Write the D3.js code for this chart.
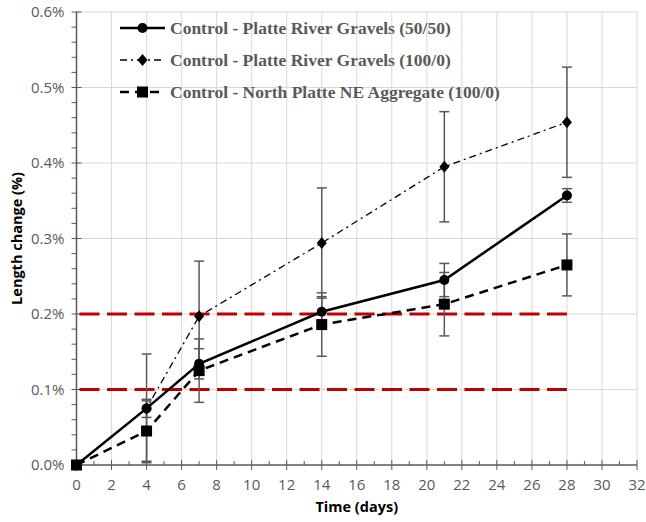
<!DOCTYPE html>
<meta charset="utf-8">
<style>
  body { margin: 0; background: #fff; }
  text { font-family: 'Open Sans', 'Liberation Sans', sans-serif; }
</style>
<script src="https://d3js.org/d3.v7.min.js"></script>
<div id="chart"></div>
<script>
// values (length change in %)
var days = [0, 4, 7, 14, 21, 28];
var mix5050 = [0, 0.075, 0.134, 0.203, 0.245, 0.357];
var err5050 = [0, 0.012, 0.020, 0.020, 0.022, 0.009];
var pr100 = [0, 0.075, 0.197, 0.294, 0.395, 0.454];
var errPr100 = [0, 0.072, 0.073, 0.073, 0.073, 0.073];
var np100 = [0, 0.045, 0.125, 0.186, 0.213, 0.265];
var errNp100 = [0, 0.040, 0.042, 0.042, 0.042, 0.041];
var limits = [0.1, 0.2];
var limitDays = [0, 28];
var seriesNames = ["Control - Platte River Gravels (50/50)",
                   "Control - Platte River Gravels (100/0)",
                   "Control - North Platte NE Aggregate (100/0)"];

var width = 646, height = 522;
var margin = {top: 12, right: 9, bottom: 57, left: 76.5};

var svg = d3.select("#chart").append("svg")
  .attr("width", width).attr("height", height);

var x = d3.scaleLinear().domain([0, 32]).range([margin.left, width - margin.right]);
var y = d3.scaleLinear().domain([0, 0.6]).range([height - margin.bottom, margin.top]);

var grey = "#595959";

// gridlines
svg.append("g").selectAll("line.v")
  .data(d3.range(2, 33, 2)).enter().append("line")
  .attr("x1", d => x(d)).attr("x2", d => x(d))
  .attr("y1", y(0)).attr("y2", y(0.6))
  .attr("stroke", "#d9d9d9").attr("stroke-width", 1);
svg.append("g").selectAll("line.h")
  .data(d3.range(1, 7).map(d => d / 10)).enter().append("line")
  .attr("x1", x(0)).attr("x2", x(32))
  .attr("y1", d => y(d)).attr("y2", d => y(d))
  .attr("stroke", "#d9d9d9").attr("stroke-width", 1);

// axes
var xAxis = svg.append("g").attr("transform", "translate(0," + y(0) + ")");
xAxis.append("line").attr("x1", x(0)).attr("x2", x(32)).attr("stroke", grey).attr("stroke-width", 1.5);
xAxis.selectAll("line.minor").data(d3.range(0, 33, 1)).enter().append("line")
  .attr("x1", d => x(d)).attr("x2", d => x(d))
  .attr("y1", d => d % 2 ? -4 : -5).attr("y2", d => d % 2 ? 0 : 5)
  .attr("stroke", grey).attr("stroke-width", 1);
xAxis.selectAll("text").data(d3.range(0, 33, 2)).enter().append("text")
  .attr("x", d => x(d)).attr("y", 25)
  .attr("text-anchor", "middle").attr("fill", grey).style("font-size", "15px")
  .text(d => d);

var yAxis = svg.append("g").attr("transform", "translate(" + x(0) + ",0)");
yAxis.append("line").attr("y1", y(0)).attr("y2", y(0.6)).attr("stroke", grey).attr("stroke-width", 1.5);
yAxis.selectAll("line.minor").data(d3.range(0, 31).map(d => d / 50)).enter().append("line")
  .attr("y1", d => y(d)).attr("y2", d => y(d))
  .attr("x1", -5).attr("x2", (d, i) => i % 5 ? 0 : 5)
  .attr("stroke", grey).attr("stroke-width", 1);
yAxis.selectAll("text").data(d3.range(0, 7).map(d => d / 10)).enter().append("text")
  .attr("x", -12).attr("y", d => y(d)).attr("dy", "0.35em")
  .attr("text-anchor", "end").attr("fill", grey).style("font-size", "15px")
  .text(d => d3.format(".1%")(d / 100));

svg.append("text")
  .attr("x", (x(0) + x(32)) / 2).attr("y", 512)
  .attr("text-anchor", "middle").style("font-size", "14.5px").style("font-weight", "bold")
  .text("Time (days)");
svg.append("text")
  .attr("transform", "translate(22," + y(0.3) + ") rotate(-90)")
  .attr("text-anchor", "middle").style("font-size", "14.5px").style("font-weight", "bold")
  .text("Length change (%)");

// red limit lines
svg.append("g").selectAll("line").data(limits).enter().append("line")
  .attr("x1", x(limitDays[0])).attr("x2", x(limitDays[1]))
  .attr("y1", d => y(d)).attr("y2", d => y(d))
  .attr("stroke", "#c00000").attr("stroke-width", 3)
  .attr("stroke-dasharray", "20,7.5").attr("stroke-dashoffset", 24.5);

var series = [
  {vals: mix5050, err: err5050, dash: null, sw: 2.5, marker: "circle"},
  {vals: pr100, err: errPr100, dash: "7,4,2,4", sw: 1.3, marker: "diamond"},
  {vals: np100, err: errNp100, dash: "9,6", sw: 2.5, marker: "square"}
];

// error bars
series.forEach(function(s) {
  var g = svg.append("g");
  days.forEach(function(d, i) {
    if (!s.err[i]) return;
    var lo = y(s.vals[i] - s.err[i]), hi = y(s.vals[i] + s.err[i]);
    g.append("line").attr("x1", x(d)).attr("x2", x(d)).attr("y1", lo).attr("y2", hi)
      .attr("stroke", grey).attr("stroke-width", 1.5);
    [lo, hi].forEach(function(v) {
      g.append("line").attr("x1", x(d) - 5).attr("x2", x(d) + 5).attr("y1", v).attr("y2", v)
        .attr("stroke", grey).attr("stroke-width", 1.5);
    });
  });
});

var line = d3.line().x((d, i) => x(days[i])).y(d => y(d));

function drawMarker(g, type, cx, cy) {
  if (type === "circle") g.append("circle").attr("cx", cx).attr("cy", cy).attr("r", 5).attr("fill", "#000");
  else if (type === "diamond") g.append("path")
    .attr("d", "M" + cx + "," + (cy - 6) + "L" + (cx + 5) + "," + cy + "L" + cx + "," + (cy + 6) + "L" + (cx - 5) + "," + cy + "Z")
    .attr("fill", "#000");
  else g.append("rect").attr("x", cx - 5.5).attr("y", cy - 5.5).attr("width", 11).attr("height", 11).attr("fill", "#000");
}

series.forEach(function(s) {
  svg.append("path").datum(s.vals).attr("d", line)
    .attr("fill", "none").attr("stroke", "#000").attr("stroke-width", s.sw)
    .attr("stroke-dasharray", s.dash);
});
series.forEach(function(s) {
  var g = svg.append("g");
  s.vals.forEach(function(v, i) { drawMarker(g, s.marker, x(days[i]), y(v)); });
});

// legend
var legend = svg.append("g");
seriesNames.forEach(function(name, i) {
  var s = series[i], ly = 28 + i * 32;
  legend.append("line").attr("x1", 120).attr("x2", 165).attr("y1", ly).attr("y2", ly)
    .attr("stroke", "#000").attr("stroke-width", s.sw).attr("stroke-dasharray", s.dash);
  drawMarker(legend, s.marker, 142.5, ly);
  legend.append("text").attr("x", 170).attr("y", ly).attr("dy", "0.35em")
    .attr("fill", grey)
    .style("font-family", "'Liberation Serif', 'DejaVu Serif', serif")
    .style("font-weight", "bold").style("font-size", "17.5px")
    .text(name);
});
</script>
